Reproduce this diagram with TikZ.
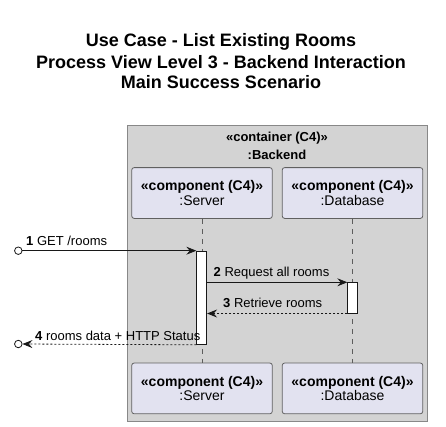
\documentclass[tikz,border=0pt]{standalone}
\usepackage{fontspec}
\setmainfont{Liberation Sans}
\usetikzlibrary{arrows.meta}
\definecolor{contfill}{HTML}{D3D3D3}
\definecolor{contdraw}{HTML}{888888}
\definecolor{compfill}{HTML}{E2E2F0}
\definecolor{compdraw}{HTML}{606060}
\definecolor{ink}{HTML}{181818}
\tikzset{
  titletext/.style={font=\fontsize{18}{20}\selectfont\bfseries, anchor=center, inner sep=0},
  contlabel/.style={font=\fontsize{13}{15}\selectfont\bfseries, anchor=center, inner sep=0},
  compbox/.style={draw=compdraw, line width=0.8pt, fill=compfill, rounded corners=2.5pt, minimum width=140.6pt, minimum height=50.8pt, inner sep=0, align=center, font=\fontsize{14}{15}\selectfont},
  actbar/.style={draw=ink, line width=0.8pt, fill=white, minimum width=10pt, inner sep=0, anchor=north},
  lifeline/.style={draw=ink!70, line width=0.6pt, dash pattern=on 5pt off 5pt},
  msg/.style={draw=ink, line width=0.8pt, -{Stealth[length=10pt,width=8pt,inset=3.5pt]}},
  msgret/.style={msg, dash pattern=on 2pt off 2pt},
  endcirc/.style={circle, draw=ink, line width=0.8pt, fill=white, minimum size=7.5pt, inner sep=0},
  msglabel/.style={font=\fontsize{13}{15}\selectfont, anchor=base west, inner sep=0},
}
\begin{document}
\begin{tikzpicture}[x=1pt,y=-1pt]
\useasboundingbox (0,0) rectangle (446,426);
% title
\node[titletext] (t1) at (221,41.7) {Use Case - List Existing Rooms};
\node[titletext] (t2) at (221,62) {Process View Level 3 - Backend Interaction};
\node[titletext] (t3) at (221,82.5) {Main Success Scenario};
% container
\draw[draw=contdraw, line width=0.8pt, fill=contfill] (127.3,125.5) rectangle (427,421);
\node[contlabel] (cl1) at (277,138) {«container (C4)»};
\node[contlabel] (cl2) at (277,155) {:Backend};
% participants
\node[compbox] (srvT) at (202,193) {\textbf{«component (C4)»}\\[-0.5pt]:Server};
\node[compbox] (dbT) at (352.5,193) {\textbf{«component (C4)»}\\[-0.5pt]:Database};
\node[compbox] (srvB) at (202,388.4) {\textbf{«component (C4)»}\\[-0.5pt]:Server};
\node[compbox] (dbB) at (352.5,388.4) {\textbf{«component (C4)»}\\[-0.5pt]:Database};
% lifelines
\draw[lifeline] (srvT.south) -- (srvB.north);
\draw[lifeline] (dbT.south) -- (dbB.north);
% activations
\node[actbar, minimum height=93.3pt] (sa) at (201.7,250.7) {};
\node[actbar, minimum height=30.4pt] (da) at (352.7,282.3) {};
% end circles
\node[endcirc] (c1) at (18.3,250.7) {};
\node[endcirc] (c4) at (18.3,344) {};
% messages
\draw[msg] (c1.east) -- (sa.north west);
\node[msglabel] (l1) at (26,245.3) {\textbf{1} GET /rooms};
\coordinate (m2s) at (sa.east |- da.north);
\draw[msg] (m2s) -- (da.north west);
\node[msglabel] (l2) at (213.5,276.8) {\textbf{2} Request all rooms};
\coordinate (m3e) at (sa.east |- da.south);
\draw[msgret] (da.south west) -- (m3e);
\node[msglabel] (l3) at (223,307.2) {\textbf{3} Retrieve rooms};
\draw[msgret] (sa.south west) -- (c4.east);
\node[msglabel] (l4) at (35,340.5) {\textbf{4} rooms data + HTTP Status};
\end{tikzpicture}
\end{document}
